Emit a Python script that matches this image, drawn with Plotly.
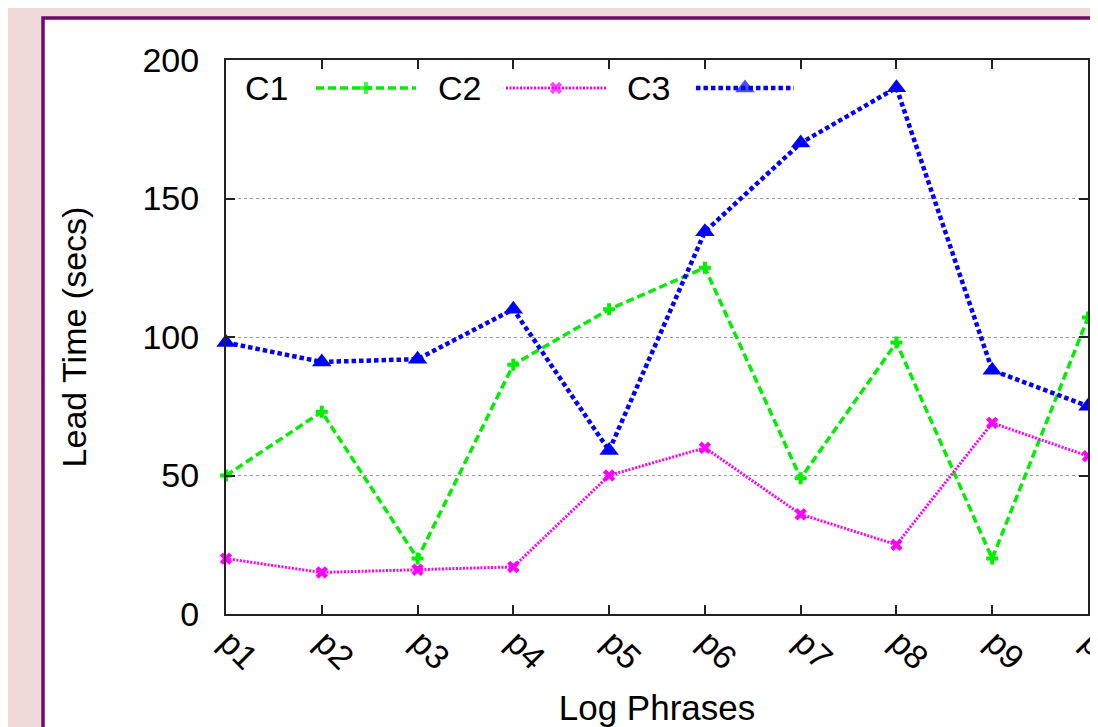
import plotly.graph_objects as go

categories = ["p1", "p2", "p3", "p4", "p5", "p6", "p7", "p8", "p9", "p10"]
c1 = [50, 73, 20, 90, 110, 125, 49, 98, 20, 107]
c2 = [20, 15, 16, 17, 50, 60, 36, 25, 69, 57]
c3 = [98, 91, 92, 110, 59, 138, 170, 190, 88, 75]
y_ticks = [0, 50, 100, 150, 200]

FONT = "Liberation Sans, Arial, Helvetica, sans-serif"
FS = 34
GREEN = "#00ee00"
MAGENTA = "#ff00ff"
BLUE = "#0000ff"

series = [
    ("C1", c1, GREEN, "8px,4px", 3.5, "cross", 10),
    ("C2", c2, MAGENTA, "2px,1.5px", 3, "x", 11),
    ("C3", c3, BLUE, "4.5px,3px", 4.5, "triangle-up", 17),
]

fig = go.Figure()
for name, vals, col, dash, w, sym, sz in series:
    fig.add_trace(go.Scatter(
        x=categories, y=vals, name=name, mode="lines+markers",
        line=dict(color=col, width=w, dash=dash),
        marker=dict(symbol=sym, size=sz, color=col, line=dict(width=0)),
        cliponaxis=False, showlegend=False,
    ))

# legend keys (text before sample, gnuplot style) on an overlay axis in [0,1]
legend_y = 0.9495
legend_items = [
    ("C1", 0.0470, 0.1044, 0.2204, 0),
    ("C2", 0.2703, 0.3248, 0.4408, 1),
    ("C3", 0.4907, 0.5452, 0.6589, 2),
]
for label, tx, x0, x1, idx in legend_items:
    name, vals, col, dash, w, sym, sz = series[idx]
    fig.add_trace(go.Scatter(
        x=[x0, (x0 + x1) / 2, x1], y=[legend_y] * 3, mode="lines+markers",
        line=dict(color=col, width=w, dash=dash),
        marker=dict(symbol=sym, size=[0, sz, 0], color=col, line=dict(width=0)),
        xaxis="x2", yaxis="y2", showlegend=False, hoverinfo="skip", cliponaxis=False,
    ))
    fig.add_annotation(x=tx, y=legend_y, xref="x2", yref="y2", text=label,
                       showarrow=False, xanchor="center", yanchor="middle",
                       font=dict(family=FONT, size=FS, color="black"))

fig.update_layout(
    width=1098, height=727,
    paper_bgcolor="#f0dada",
    plot_bgcolor="white",
    margin=dict(l=218, r=18, t=52, b=121),
    font=dict(family=FONT, size=FS, color="black"),
    showlegend=False,
    xaxis=dict(
        type="category", range=[0, 9],
        showline=True, linecolor="#222", linewidth=2, mirror="ticks",
        ticks="inside", ticklen=9, tickcolor="#222", tickwidth=1.5,
        tickangle=45, showgrid=False, zeroline=False,
        ticklabelstandoff=-7, ticklabelshift=3,
        tickfont=dict(family=FONT, size=FS),
        title=dict(text="Log Phrases", font=dict(family=FONT, size=35), standoff=7),
        automargin=False,
    ),
    yaxis=dict(
        range=[0, 200], tickvals=y_ticks,
        showline=True, linecolor="#222", linewidth=2, mirror="ticks",
        ticks="inside", ticklen=9, tickcolor="#222", tickwidth=1.5,
        showgrid=True, gridcolor="#999", griddash="dot", gridwidth=1,
        zeroline=False, ticklabelstandoff=18,
        tickfont=dict(family=FONT, size=FS),
        title=dict(text="Lead Time (secs)", font=dict(family=FONT, size=FS), standoff=46),
        automargin=False,
    ),
    xaxis2=dict(overlaying="x", range=[0, 1], visible=False, fixedrange=True),
    yaxis2=dict(overlaying="y", range=[0, 1], visible=False, fixedrange=True),
    shapes=[dict(
        type="rect", xref="paper", yref="paper",
        x0=-0.2123, x1=3, y0=-3, y1=1.0758,
        fillcolor="white", line=dict(color="#6e0a6e", width=3.5), layer="below",
    )],
)

fig.write_html("out.html")
